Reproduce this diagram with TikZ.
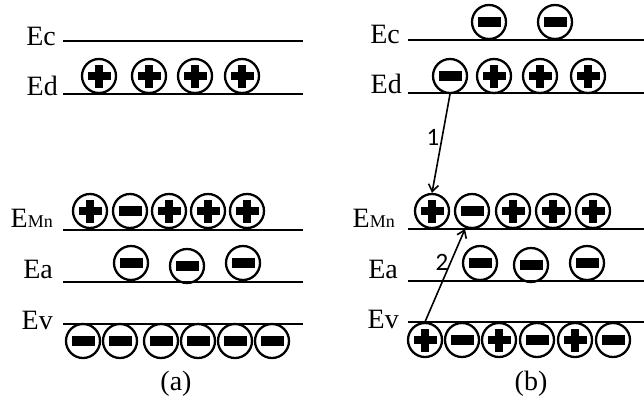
\documentclass[tikz,border=0pt]{standalone}
\usepackage{fontspec}
\setmainfont{Liberation Serif}
\newfontfamily\numfont{Carlito}
\usetikzlibrary{arrows.meta,positioning}

\begin{document}
\begin{tikzpicture}[
x=1pt, y=-1pt,
level/.style={line width=1.8pt},
lbl/.style={anchor=base east, inner sep=0pt, font=\fontsize{28}{30}\selectfont},
captext/.style={anchor=base, inner sep=0pt, font=\fontsize{28}{30}\selectfont},
num/.style={inner sep=0pt, font=\numfont\fontsize{25}{26}\selectfont},
charge/.style={circle, draw, line width=2.3pt, minimum size=34pt, inner sep=0pt},
negchg/.style={charge, path picture={
  \fill ([shift={(-11.5pt,-4.8pt)}]path picture bounding box.center) rectangle ++(23pt,9.6pt);}},
poschg/.style={charge, path picture={
  \fill ([shift={(-11.5pt,-4.2pt)}]path picture bounding box.center) rectangle ++(23pt,8.4pt);
  \fill ([shift={(-4.2pt,-11.5pt)}]path picture bounding box.center) rectangle ++(8.4pt,23pt);}},
arrow/.style={-{Straight Barb[length=7pt,width=10pt]}, line width=1.6pt}
]
\useasboundingbox (0,0) rectangle (644,407);

% (a) levels
\draw[level] (63,41) -- (303,41);
\draw[level] (63,94) -- (303,94);
\draw[level] (63,230) -- (303,230);
\draw[level] (63,282) -- (303,282);
\draw[level] (63,324) -- (303,324);
\node[lbl] (ac) at (56,45) {Ec};
\node[lbl] (ad) at (58,95) {Ed};
\node[lbl] (am) at (53,227) {E{\fontsize{18}{20}\selectfont Mn}};
\node[lbl] (aa) at (53,278) {Ea};
\node[lbl] (av) at (53,329) {Ev};

% (a) charges
\node[poschg] (ad1) at (99,76) {};
\node[poschg] (ad2) at (149,76) {};
\node[poschg] (ad3) at (195,76) {};
\node[poschg] (ad4) at (242,76) {};
\node[poschg] (am1) at (90,211) {};
\node[negchg] (am2) at (130,211) {};
\node[poschg] (am3) at (169,211) {};
\node[poschg] (am4) at (208,211) {};
\node[poschg] (am5) at (247,211) {};
\node[negchg] (aa1) at (131,263) {};
\node[negchg] (aa2) at (187,266) {};
\node[negchg] (aa3) at (243,263) {};
\node[negchg] (av1) at (83,341) {};
\node[negchg] (av2) at (120,341) {};
\node[negchg] (av3) at (161,341) {};
\node[negchg] (av4) at (198,341) {};
\node[negchg] (av5) at (235,341) {};
\node[negchg] (av6) at (272,341) {};
\node[captext] (capa) at (176,390) {(a)};

% (b) levels
\draw[level] (408,40) -- (644,40);
\draw[level] (408,93) -- (644,93);
\draw[level] (408,229) -- (644,229);
\draw[level] (408,281) -- (644,281);
\draw[level] (408,322) -- (644,322);
\node[lbl] (bc) at (400,43) {Ec};
\node[lbl] (bd) at (402,93) {Ed};
\node[lbl] (bm) at (395,227) {E{\fontsize{18}{20}\selectfont Mn}};
\node[lbl] (ba) at (398,278) {Ea};
\node[lbl] (bv) at (399,328) {Ev};

% (b) charges
\node[negchg] (bc1) at (489,22) {};
\node[negchg] (bc2) at (555,22) {};
\node[negchg] (bd1) at (450,76) {};
\node[poschg] (bd2) at (494,76) {};
\node[poschg] (bd3) at (540,76) {};
\node[poschg] (bd4) at (588,76) {};
\node[poschg] (bm1) at (432,211) {};
\node[negchg] (bm2) at (472,211) {};
\node[poschg] (bm3) at (513,211) {};
\node[poschg] (bm4) at (553,211) {};
\node[poschg] (bm5) at (593,211) {};
\node[negchg] (ba1) at (480,263) {};
\node[negchg] (ba2) at (531,265) {};
\node[negchg] (ba3) at (587,263) {};
\node[poschg] (bv1) at (425,340) {};
\node[negchg] (bv2) at (462,340) {};
\node[poschg] (bv3) at (499,340) {};
\node[negchg] (bv4) at (537,340) {};
\node[poschg] (bv5) at (575,340) {};
\node[negchg] (bv6) at (613,340) {};
\node[captext] (capb) at (531,390) {(b)};

% transitions
\coordinate (tgt) at (465,229);
\draw[arrow] (bd1.south) -- (bm1.north);
\draw[arrow] (bv1.north) -- (tgt);
\node[num] (n1) at (433,137) {1};
\node[num] (n2) at (442,262) {2};
\end{tikzpicture}
\end{document}
